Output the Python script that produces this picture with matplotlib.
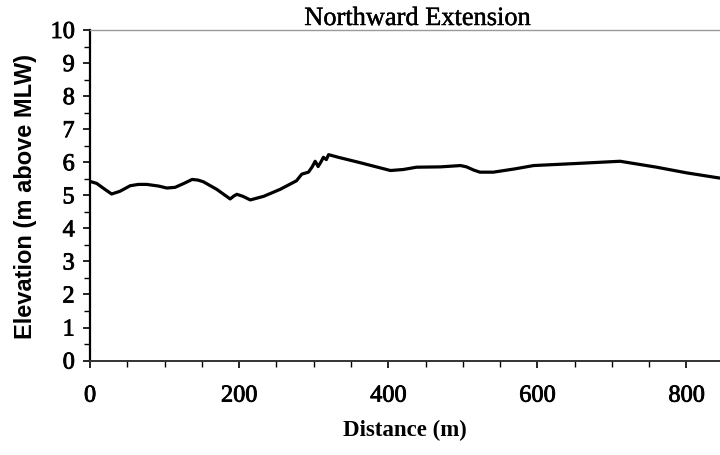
import matplotlib
matplotlib.use("Agg")
import matplotlib.pyplot as plt
import matplotlib.patheffects as pe
from matplotlib.ticker import MultipleLocator

# Beach profile: distance along transect (m) and elevation (m above MLW)
distance = [0, 9, 20, 29, 40, 54, 65, 76, 92, 103, 114, 126, 137, 145, 152,
            170, 188, 193, 197, 205, 215, 233, 255, 277, 284, 293, 298, 302,
            306, 310, 313, 317, 320, 333, 360, 403, 420, 438, 470, 497, 505,
            515, 523, 541, 570, 595, 650, 711, 760, 800, 845]
elevation = [5.42, 5.36, 5.18, 5.04, 5.12, 5.29, 5.33, 5.33, 5.28, 5.22, 5.24,
             5.36, 5.48, 5.46, 5.41, 5.18, 4.89, 4.98, 5.03, 4.97, 4.86, 4.97,
             5.18, 5.44, 5.64, 5.70, 5.86, 6.03, 5.87, 6.02, 6.15, 6.08, 6.23,
             6.15, 6.00, 5.75, 5.78, 5.85, 5.86, 5.90, 5.86, 5.76, 5.70, 5.70,
             5.80, 5.90, 5.96, 6.03, 5.85, 5.68, 5.52]

title = "Northward Extension"
x_label = "Distance (m)"
y_label = "Elevation (m above MLW)"
x_ticks = [0, 200, 400, 600, 800]
y_ticks = list(range(0, 11))

fig = plt.figure(figsize=(7.2, 4.56), dpi=100)
ax = fig.add_axes([0.125, 0.207, 0.875, 0.725])

ax.plot(distance, elevation, color="black", linewidth=2.3,
        solid_capstyle="round", solid_joinstyle="round")

ax.set_xlim(0, 845)
ax.set_ylim(0, 10)
ax.set_xticks(x_ticks)
ax.set_yticks(y_ticks)
ax.xaxis.set_minor_locator(MultipleLocator(50))
ax.yaxis.set_minor_locator(MultipleLocator(0.5))

serif = "Liberation Serif"
heavy = [pe.withStroke(linewidth=0.6, foreground="black")]
for lab in ax.get_xticklabels() + ax.get_yticklabels():
    lab.set_fontfamily(serif)
    lab.set_fontsize(17.5)
    lab.set_path_effects(heavy)

ax.tick_params(axis="both", which="major", direction="out", length=5,
               width=1.2, color="black")
ax.tick_params(axis="both", which="minor", direction="out", length=4,
               width=1.0, color="black")
ax.tick_params(axis="x", which="major", pad=13)
ax.tick_params(axis="y", which="major", pad=6)

ax.spines["left"].set_linewidth(1.6)
ax.spines["left"].set_color("black")
ax.spines["bottom"].set_linewidth(1.4)
ax.spines["bottom"].set_color("#333333")
ax.spines["top"].set_linewidth(1.0)
ax.spines["top"].set_color("#9a9a9a")
ax.spines["right"].set_visible(False)

ax.set_title(title, fontfamily=serif, fontsize=19, pad=1, x=0.52,
             path_effects=[pe.withStroke(linewidth=0.3, foreground="black")])
ax.set_xlabel(x_label, fontfamily=serif, fontweight="bold", fontsize=16.5,
              labelpad=9)
ax.set_ylabel(y_label, fontfamily="Liberation Sans", fontweight="bold",
              fontsize=17, labelpad=10)

fig.savefig("out.png", dpi=100)
